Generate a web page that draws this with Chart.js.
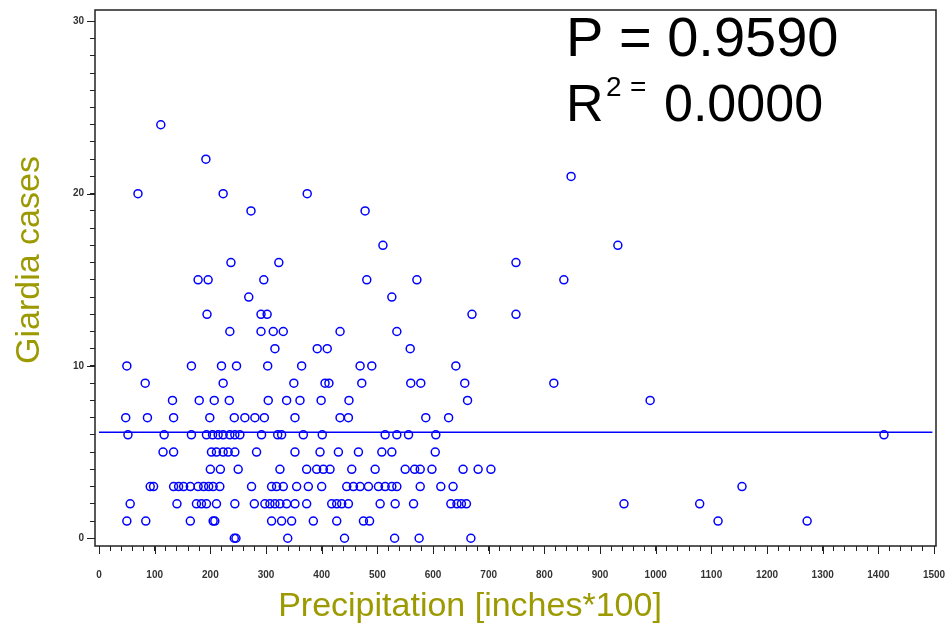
<!DOCTYPE html>
<html>
<head>
<meta charset="utf-8">
<script src="https://cdn.jsdelivr.net/npm/chart.js@4.4.1/dist/chart.umd.min.js"></script>
<style>
  html, body { margin: 0; padding: 0; background: #ffffff; }
</style>
</head>
<body>
<canvas id="giardiaChart" width="951" height="630"></canvas>
<script>
// precipitation (inches*100) of each observation, one array per giardia case count
const cases0 = [243, 246, 339, 441, 531, 575, 668];
const cases1 = [50, 84, 164, 205, 208, 310, 328, 346, 385, 427, 475, 486, 1112, 1272];
const cases2 = [56, 140, 175, 184, 193, 211, 244, 279, 298, 307, 316, 325, 337, 352, 373, 418, 427, 436, 448, 505, 532, 565, 632, 643, 651, 660, 943, 1079];
const cases3 = [92, 98, 134, 143, 152, 164, 178, 188, 197, 205, 217, 274, 310, 319, 331, 355, 376, 400, 445, 457, 469, 484, 502, 514, 526, 535, 577, 614, 636, 1155];
const cases4 = [200, 218, 250, 325, 373, 391, 403, 415, 454, 496, 550, 567, 577, 598, 654, 681, 704];
const cases5 = [115, 134, 202, 211, 223, 232, 244, 283, 352, 397, 430, 466, 508, 526, 604];
const cases6 = [52, 117, 166, 193, 204, 214, 223, 235, 244, 253, 292, 321, 328, 367, 401, 514, 535, 556, 605, 1410];
const cases7 = [48, 87, 134, 199, 243, 262, 280, 297, 352, 433, 448, 587, 628];
const cases8 = [132, 180, 207, 234, 304, 337, 361, 399, 449, 662, 990];
const cases9 = [83, 223, 350, 406, 413, 472, 560, 578, 657, 817];
const cases10 = [50, 166, 220, 247, 303, 364, 469, 490, 641];
const cases11 = [316, 392, 410, 559];
const cases12 = [235, 291, 313, 331, 433, 535];
const cases13 = [194, 291, 302, 670, 749];
const cases14 = [269, 526];
const cases15 = [178, 196, 296, 481, 571, 835];
const cases16 = [237, 323, 749];
const cases17 = [510, 932];
const cases19 = [273, 478];
const cases20 = [70, 223, 374];
const cases21 = [848];
const cases22 = [192];
const cases24 = [111];

// fitted line (flat, R^2 = 0)
const fitX = [0, 1497];
const fitY = [6.15, 6.15];

const xTickLabels = [0, 100, 200, 300, 400, 500, 600, 700, 800, 900, 1000, 1100, 1200, 1300, 1400, 1500];
const yTickLabels = [0, 10, 20, 30];

const pValueText = 'P = 0.9590';
const rSquaredText = '0.0000';

const byCases = [
    [0, cases0], [1, cases1], [2, cases2], [3, cases3], [4, cases4], [5, cases5],
    [6, cases6], [7, cases7], [8, cases8], [9, cases9], [10, cases10], [11, cases11],
    [12, cases12], [13, cases13], [14, cases14], [15, cases15], [16, cases16],
    [17, cases17], [19, cases19], [20, cases20], [21, cases21], [22, cases22], [24, cases24]
];

function buildPoints() {
    let points = [];
    for (let i = 0; i < byCases.length; i++) {
        let count = byCases[i][0];
        let xs = byCases[i][1];
        for (let j = 0; j < xs.length; j++) {
            points.push({x: xs[j], y: count});
        }
    }
    return points;
}

const OLIVE = '#9c9a00';
const FONT = '"Liberation Sans", Arial, sans-serif';

// frame, longer major ticks, axis titles and the P / R^2 text
const sasDecorPlugin = {
    id: 'sas_decor',
    afterDraw: function(chart) {
        const ctx = chart.ctx;
        const area = chart.chartArea;
        const sx = chart.scales.x;
        const sy = chart.scales.y;
        ctx.save();

        ctx.strokeStyle = '#222';
        ctx.lineWidth = 1.5;
        ctx.strokeRect(area.left, area.top, area.right - area.left, area.bottom - area.top);

        // major ticks a bit longer
        ctx.lineWidth = 1;
        ctx.beginPath();
        xTickLabels.forEach(function(v) {
            let px = Math.round(sx.getPixelForValue(v)) + 0.5;
            ctx.moveTo(px, area.bottom);
            ctx.lineTo(px, area.bottom + 8);
        });
        yTickLabels.forEach(function(v) {
            let py = Math.round(sy.getPixelForValue(v)) + 0.5;
            ctx.moveTo(area.left, py);
            ctx.lineTo(area.left - 8, py);
        });
        ctx.stroke();

        // axis titles
        ctx.fillStyle = OLIVE;
        ctx.font = '34px ' + FONT;
        ctx.textAlign = 'center';
        ctx.textBaseline = 'middle';
        ctx.fillText('Precipitation [inches*100]', 470, 607);
        ctx.save();
        ctx.translate(30, 260);
        ctx.rotate(-Math.PI / 2);
        ctx.fillText('Giardia cases', 0, 0);
        ctx.restore();

        // stats
        ctx.fillStyle = '#000';
        ctx.textAlign = 'left';
        ctx.textBaseline = 'alphabetic';
        ctx.font = '56px ' + FONT;
        ctx.fillText(pValueText, 566, 56);
        ctx.font = '52px ' + FONT;
        ctx.fillText('R', 566, 121);
        ctx.font = '28px ' + FONT;
        ctx.fillText('2', 606, 96);
        ctx.fillText('=', 630, 96);
        ctx.font = '52px ' + FONT;
        ctx.fillText(rSquaredText, 664, 121);

        ctx.restore();
    }
};

function initChart() {
    Chart.register(sasDecorPlugin);
    const ctx = document.getElementById('giardiaChart');
    return new Chart(ctx, {
        type: 'scatter',
        data: {
            datasets: [
                {
                    label: 'Giardia cases',
                    data: buildPoints(),
                    pointStyle: 'circle',
                    pointRadius: 4,
                    borderWidth: 1.5,
                    borderColor: '#0000ff',
                    backgroundColor: 'rgba(0, 0, 0, 0)'
                },
                {
                    label: 'Fit',
                    type: 'line',
                    data: fitX.map(function(x, i) { return {x: x, y: fitY[i]}; }),
                    borderColor: '#0000ff',
                    borderWidth: 1.5,
                    pointRadius: 0,
                    fill: false
                }
            ]
        },
        options: {
            responsive: false,
            animation: false,
            events: [],
            layout: {
                padding: {top: 10, right: 15, left: 0, bottom: 0}
            },
            scales: {
                x: {
                    type: 'linear',
                    min: -7.2,
                    max: 1503.5,
                    afterFit: function(scale) {
                        scale.height = 84;
                        scale.paddingLeft = 0;
                        scale.paddingRight = 0;
                    },
                    border: {display: false},
                    grid: {
                        drawOnChartArea: false,
                        drawTicks: true,
                        tickLength: 5,
                        color: '#222'
                    },
                    ticks: {
                        stepSize: 20,
                        includeBounds: false,
                        autoSkip: false,
                        maxRotation: 0,
                        padding: 18,
                        color: '#333',
                        font: {family: FONT, size: 10, weight: 'bold'},
                        callback: function(v) { return v % 100 === 0 ? String(v) : ''; }
                    }
                },
                y: {
                    type: 'linear',
                    min: -0.45,
                    max: 30.66,
                    afterFit: function(scale) {
                        scale.width = 95;
                        scale.paddingTop = 0;
                        scale.paddingBottom = 0;
                    },
                    border: {display: false},
                    grid: {
                        drawOnChartArea: false,
                        drawTicks: true,
                        tickLength: 5,
                        color: '#222'
                    },
                    ticks: {
                        stepSize: 1,
                        includeBounds: false,
                        autoSkip: false,
                        padding: 6,
                        color: '#333',
                        font: {family: FONT, size: 10, weight: 'bold'},
                        callback: function(v) { return v % 10 === 0 ? String(v) : ''; }
                    }
                }
            },
            plugins: {
                legend: {display: false},
                tooltip: {enabled: false},
                title: {display: false}
            }
        }
    });
}

var g_chart = initChart();
</script>
</body>
</html>
